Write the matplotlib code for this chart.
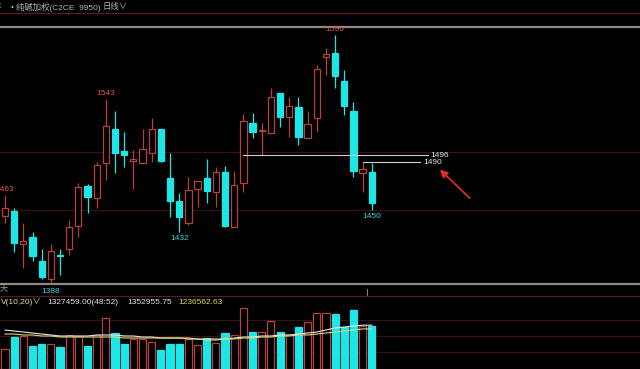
import numpy as np
import matplotlib
matplotlib.use("Agg")
import matplotlib.pyplot as plt

plt.rcParams['font.family'] = ['Liberation Sans', 'Noto Sans CJK SC', 'DejaVu Sans']

# ---- donnees ----
opens = [1445, 1449, 1422, 1428, 1408, 1393, 1413, 1418, 1437, 1470,
         1460, 1489, 1518, 1499, 1491, 1489, 1498, 1518, 1477, 1458,
         1439, 1468, 1477, 1465, 1482, 1436, 1473, 1523, 1516, 1514,
         1548, 1528, 1536, 1510, 1527, 1578, 1581, 1558, 1533, 1481, 1482]
highs = [1463, 1452, 1439, 1432, 1418, 1422, 1418, 1442, 1473, 1472,
         1490, 1543, 1533, 1515, 1500, 1518, 1527, 1518, 1498, 1464,
         1478, 1474, 1493, 1486, 1487, 1483, 1530, 1531, 1523, 1552,
         1548, 1544, 1544, 1533, 1571, 1585, 1596, 1567, 1540, 1490, 1489]
lows = [1439, 1415, 1402, 1408, 1393, 1388, 1396, 1413, 1428, 1448,
        1452, 1475, 1481, 1486, 1468, 1489, 1490, 1490, 1444, 1432,
        1438, 1453, 1456, 1453, 1436, 1436, 1465, 1510, 1496, 1514,
        1519, 1511, 1504, 1510, 1515, 1563, 1552, 1529, 1478, 1465, 1450]
closes = [1452, 1423, 1424, 1412, 1394, 1416, 1412, 1436, 1469, 1461,
          1488, 1520, 1498, 1496, 1493, 1501, 1518, 1491, 1458, 1444,
          1467, 1474, 1466, 1482, 1437, 1471, 1524, 1515, 1517, 1544,
          1528, 1537, 1511, 1522, 1568, 1580, 1562, 1537, 1483, 1484, 1456]

# volume en 10k
volumes = [61.7, 98.8, 101.9, 71.0, 77.2, 77.2, 67.9, 105.0, 101.9, 71.0,
           105.0, 157.4, 111.1, 77.2, 92.6, 92.6, 83.3, 58.7, 77.2, 77.2,
           92.6, 74.1, 95.7, 80.3, 111.1, 105.0, 188.3, 114.2, 114.2, 148.2,
           114.2, 105.0, 129.7, 145.1, 172.9, 172.9, 169.8, 129.7, 182.1, 132.7, 132.7]
ma10 = [120.4, 117.3, 114.2, 111.1, 108.0, 105.0, 101.9, 101.9, 101.9, 101.9,
        105.0, 105.0, 105.0, 101.9, 101.9, 98.8, 98.8, 95.7, 95.7, 95.7,
        95.7, 92.6, 92.6, 92.6, 92.6, 95.7, 98.8, 98.8, 101.9, 101.9,
        105.0, 105.0, 108.0, 111.1, 114.2, 120.4, 126.6, 129.7, 132.7, 135.3, 135.3]
ma20 = [108.0, 108.0, 105.0, 105.0, 101.9, 101.9, 98.8, 98.8, 98.8, 98.8,
        98.8, 98.8, 98.8, 95.7, 95.7, 95.7, 95.7, 95.7, 95.7, 95.7,
        92.6, 92.6, 89.5, 89.5, 92.6, 92.6, 95.7, 95.7, 98.8, 98.8,
        101.9, 101.9, 105.0, 105.0, 108.0, 111.1, 114.2, 117.3, 120.4, 123.7, 123.7]

hi_labels = [(0, 1463), (11, 1543), (36, 1596)]
lo_labels = [(5, 1388), (19, 1432), (40, 1450)]
support_lines = [(26, 1496, 46.1), (39, 1490, 45.3)]

RED = "#b8403c"
CYAN = "#1de6e6"
BG = "black"

x = np.arange(len(opens))
up = [c >= o for o, c in zip(opens, closes)]
colors = [RED if u else CYAN for u in up]

fig = plt.figure(figsize=(6.4, 3.69), dpi=100, facecolor=BG)
H = 369.0

ax = fig.add_axes([0, 1 - 284 / H, 1, 257 / H], facecolor=BG)
axv = fig.add_axes([0, 0, 1, 73 / H], facecolor=BG)

for a in (ax, axv):
    a.set_xlim(-0.545, 69.25)
    a.set_xticks([])
    a.set_yticks([])
    for s in a.spines.values():
        s.set_visible(False)

ax.set_ylim(1388.5, 1602.7)
ax.spines["top"].set_visible(True)
ax.spines["bottom"].set_visible(True)
ax.spines["top"].set_color("#8a8a8a")
ax.spines["bottom"].set_color("#8a8a8a")
ax.spines["top"].set_linewidth(1.6)
ax.spines["bottom"].set_linewidth(1.6)

for lvl in (1498.5, 1450.2):
    ax.axhline(lvl, color="#3a1212", lw=0.8, zorder=0)

# bougies
ax.vlines(x, lows, highs, colors=colors, lw=0.9, zorder=1)
bottoms = [min(o, c) for o, c in zip(opens, closes)]
heights = [max(abs(c - o), 0.8) for o, c in zip(opens, closes)]
faces = [BG if u else CYAN for u in up]
ax.bar(x, heights, bottom=bottoms, width=0.68, color=faces, edgecolor=colors,
       linewidth=0.9, zorder=2)

for i, v in hi_labels:
    ax.text(x[i], highs[i] + 1.5, str(v), color="#e05555", fontsize=6,
            ha="center", va="bottom", clip_on=False)
for i, v in lo_labels:
    ax.text(x[i], lows[i] - 2.5, str(v), color="#40d6d6", fontsize=6,
            ha="center", va="top", clip_on=False)

for i, lvl, xend in support_lines:
    ax.plot([x[i], xend], [lvl, lvl], color="#cfcfcf", lw=0.8, zorder=3)
    ax.text(xend + 0.3, lvl, str(lvl), color="#e6e6e6", fontsize=6,
            ha="left", va="center")

ax.annotate("", xy=(47.2, 1485.5), xytext=(50.9, 1458.5),
            arrowprops=dict(arrowstyle="-|>", color="#e02a2a", lw=1.3,
                            mutation_scale=11))

# volume
axv.set_ylim(0, 225.4)
axv.spines["top"].set_visible(True)
axv.spines["top"].set_color("#5a1c1c")
axv.spines["top"].set_linewidth(0.9)
for lvl in (52.5, 101.9, 151.3):
    axv.axhline(lvl, color="#3a1212", lw=0.8, zorder=0)
axv.bar(x, volumes, width=0.78, color=faces, edgecolor=colors, linewidth=0.9, zorder=2)
axv.plot(x, ma10, color="#e6e6e6", lw=0.8, zorder=3)
axv.plot(x, ma20, color="#d8d878", lw=0.8, zorder=3)

# en-tetes
fig.add_artist(plt.Line2D([0, 1], [1 - 13 / H, 1 - 13 / H], color="#5a1c1c", lw=0.9))
fig.text(-0.004, 1 - 7 / H, "□", color="#9a9a9a", fontsize=5, va="center")
fig.text(12 / 640, 1 - 7 / H, "●", color="#c8d040", fontsize=3.5, va="center", ha="center")
fig.text(16 / 640, 1 - 7 / H, "纯碱加权(C2CE  9950)", color="#b4b4b4", fontsize=6, va="center")
fig.text(103 / 640, 1 - 7 / H, "日线∨", color="#b4b4b4", fontsize=6, va="center")

fig.text(0, 1 - 290 / H, "天", color="#b0a070", fontsize=6, va="center")
fig.add_artist(plt.Line2D([367 / 640, 367 / 640], [1 - 289 / H, 1 - 295 / H],
                          color="#808080", lw=0.8))

ty = 1 - 302 / H
fig.text(0.5 / 640, ty, "V(10,20)∨", color="#e0d890", fontsize=6, va="center")
fig.text(47 / 640, ty, "1327459.00(48:52)", color="#e6e6e6", fontsize=6, va="center")
fig.text(127 / 640, ty, "1352955.75", color="#e6e6e6", fontsize=6, va="center")
fig.text(178 / 640, ty, "1236562.63", color="#d8d860", fontsize=6, va="center")

fig.savefig("out.png", dpi=100, facecolor=BG)
